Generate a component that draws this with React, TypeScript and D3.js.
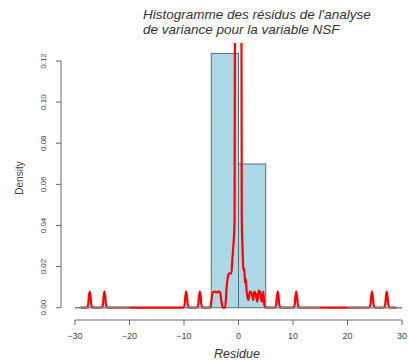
import React from "react";
import * as d3 from "d3";

const titleLines = ["Histogramme des résidus de l'analyse", "de variance pour la variable NSF"];
const xTicks = [-30, -20, -10, 0, 10, 20, 30];
const yTicks = [0, 0.02, 0.04, 0.06, 0.08, 0.1, 0.12];

const binStart = [-30, -10, -5, 0, 5, 20];
const binEnd = [-20, -5, 0, 5, 15, 30];
const binDensity = [0, 0, 0.1237, 0.0699, 0, 0];

const curveResidue = [
  -29.0, -27.85, -27.6, -27.45, -27.3, -27.15, -27.0, -26.75,
  -25.15, -24.9, -24.75, -24.6, -24.45, -24.3, -24.05,
  -10.15, -9.9, -9.75, -9.6, -9.45, -9.3, -9.05,
  -7.65, -7.4, -7.25, -7.1, -6.95, -6.8, -6.55,
  -5.15, -4.95, -4.75, -4.4, -4.0, -3.6, -3.35, -3.1, -2.85,
  -2.45, -2.17, -1.87, -1.7, -1.3, -1.14, -0.95, -0.72, -0.62, -0.45,
  0.05, 0.4, 0.6, 0.77, 0.89, 1.07, 1.19, 1.31, 1.5, 1.8, 2.1, 2.4, 2.7,
  2.9, 3.2, 3.45, 3.7, 3.94, 4.26, 4.56, 4.73, 5.05,
  6.65, 6.9, 7.05, 7.2, 7.35, 7.5, 7.75,
  10.05, 10.3, 10.45, 10.6, 10.75, 10.9, 11.15,
  23.95, 24.2, 24.35, 24.5, 24.65, 24.8, 25.05,
  26.65, 26.9, 27.05, 27.2, 27.35, 27.5, 27.75, 29.0,
];
const curveDensity = [
  0, 0, 0.0012, 0.0055, 0.0078, 0.0055, 0.0012, 0,
  0, 0.0012, 0.0055, 0.0078, 0.0055, 0.0012, 0,
  0, 0.0012, 0.0055, 0.0078, 0.0055, 0.0012, 0,
  0, 0.0012, 0.0055, 0.0078, 0.0055, 0.0012, 0,
  0, 0.004, 0.0072, 0.0078, 0.0074, 0.008, 0.0072, 0.0025, 0,
  0, 0.0102, 0.0159, 0.0167, 0.0167, 0.0232, 0.0297, 0.0427, 0.2, 0.35,
  0.22, 0.33, 0.043, 0.0265, 0.018, 0.019, 0.012, 0.0143, 0.0078, 0.0037, 0.0078, 0.0071, 0.0037,
  0.0078, 0.0062, 0.0029, 0.0083, 0.0078, 0.0029, 0.0078, 0.0013, 0,
  0, 0.0012, 0.0055, 0.0078, 0.0055, 0.0012, 0,
  0, 0.0012, 0.0055, 0.0078, 0.0055, 0.0012, 0,
  0, 0.0012, 0.0055, 0.0078, 0.0055, 0.0012, 0,
  0, 0.0012, 0.0055, 0.0078, 0.0055, 0.0012, 0, 0,
];

const W = 409;
const H = 361;
const FONT = "'Liberation Sans', Arial, sans-serif";

export default function App() {
  const x = d3.scaleLinear().domain([-30, 30]).range([75, 402]);
  const y = d3.scaleLinear().domain([0, 0.12]).range([307.7, 61]);
  const plotTop = 43;
  const plotBottom = 318;
  const axisY = 320;
  const axisX = 61;

  const pts: [number, number][] = curveResidue.map((r, i) => [r, curveDensity[i]]);
  const line = d3
    .line<[number, number]>()
    .x((d) => x(d[0]))
    .y((d) => y(d[1]))
    .curve(d3.curveMonotoneX);

  const bins = binStart.map((s, i) => ({ s, e: binEnd[i], d: binDensity[i] }));
  const fmtY = (v: number) => v.toFixed(2);
  const fmtX = (v: number) => (v < 0 ? "\u2212" + Math.abs(v) : String(v));

  return (
    <svg
      width={W}
      height={H}
      style={{ position: "absolute", left: 0, top: 0, background: "#fff" }}
      fontFamily={FONT}
    >
      <defs>
        <clipPath id="plotClip">
          <rect x={62} y={plotTop} width={W - 62} height={plotBottom - plotTop} />
        </clipPath>
      </defs>

      {/* title */}
      {titleLines.map((t, i) => (
        <text
          key={i}
          x={143}
          y={19 + i * 15}
          fontSize={13.5}
          fontStyle="italic"
          fill="#333"
        >
          {t}
        </text>
      ))}

      <g clipPath="url(#plotClip)">
        {bins
          .filter((b) => b.d > 0)
          .map((b, i) => (
            <rect
              key={i}
              x={x(b.s)}
              y={y(b.d)}
              width={x(b.e) - x(b.s)}
              height={y(0) - y(b.d)}
              fill="#add8e6"
              stroke="#5a6e76"
              strokeWidth={1}
            />
          ))}
        <path d={line(pts) || ""} fill="none" stroke="#ff0000" strokeWidth={2.2} strokeLinejoin="round" />
        {bins
          .filter((b) => b.d === 0)
          .map((b, i) => (
            <line
              key={i}
              x1={x(b.s)}
              x2={x(b.e)}
              y1={y(0)}
              y2={y(0)}
              stroke="#6b8790"
              strokeWidth={1.6}
            />
          ))}
      </g>

      {/* y axis */}
      <g>
        <line x1={axisX} x2={axisX} y1={y(0)} y2={y(0.12)} stroke="#666" strokeWidth={1} />
        {yTicks.map((t) => (
          <g key={t}>
            <line x1={axisX - 5} x2={axisX} y1={y(t)} y2={y(t)} stroke="#666" strokeWidth={1} />
            <text
              transform={`translate(${46},${y(t)}) rotate(-90)`}
              textAnchor="middle"
              fontSize={8}
              fill="#444"
            >
              {fmtY(t)}
            </text>
          </g>
        ))}
        <text
          transform={`translate(${23},${178}) rotate(-90)`}
          textAnchor="middle"
          fontSize={10}
          fill="#444"
        >
          Density
        </text>
      </g>

      {/* x axis */}
      <g>
        <line x1={x(-30)} x2={x(30)} y1={axisY} y2={axisY} stroke="#666" strokeWidth={1} />
        {xTicks.map((t) => (
          <g key={t}>
            <line x1={x(t)} x2={x(t)} y1={axisY} y2={axisY + 5} stroke="#666" strokeWidth={1} />
            <text x={x(t)} y={338.5} textAnchor="middle" fontSize={9} fill="#444">
              {fmtX(t)}
            </text>
          </g>
        ))}
        <text x={237} y={357.5} textAnchor="middle" fontSize={12.5} fontStyle="italic" fill="#333">
          Residue
        </text>
      </g>
    </svg>
  );
}
